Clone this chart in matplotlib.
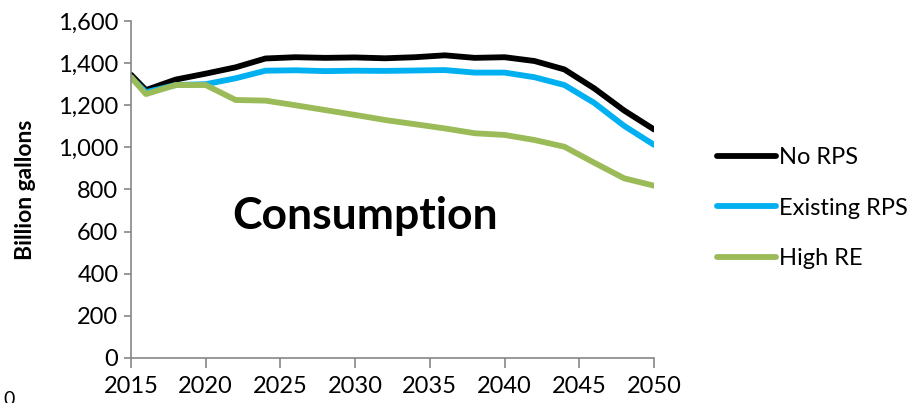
import matplotlib
matplotlib.use("Agg")
import matplotlib.pyplot as plt
from matplotlib.ticker import FuncFormatter

plt.rcParams['font.family'] = ['Lato', 'DejaVu Sans']

# Data (billion gallons)
years = [2015, 2016, 2018, 2020, 2022, 2024, 2026, 2028, 2030, 2032,
         2034, 2036, 2038, 2040, 2042, 2044, 2046, 2048, 2050]
no_rps = [1345, 1272, 1322, 1350, 1380, 1422, 1428, 1425, 1427, 1423,
          1428, 1437, 1425, 1428, 1410, 1370, 1280, 1175, 1085]
existing_rps = [1332, 1262, 1296, 1300, 1328, 1364, 1366, 1362, 1364, 1363,
                1365, 1367, 1355, 1355, 1333, 1296, 1211, 1102, 1012]
high_re = [1334, 1253, 1296, 1296, 1225, 1222, 1200, 1177, 1154, 1130,
           1110, 1090, 1067, 1059, 1035, 1003, 927, 853, 818]

series_names = ['No RPS', 'Existing RPS', 'High RE']
series_colors = ['#000000', '#00B0F0', '#9BBB59']

fig = plt.figure(figsize=(9.07, 4.03), dpi=100)
ax = fig.add_axes([0.1444, 0.1117, 0.5767, 0.8362])

for vals, name, col in zip([no_rps, existing_rps, high_re], series_names, series_colors):
    ax.plot(years, vals, color=col, lw=4.2, label=name, solid_capstyle='round')

ax.set_xlim(2015, 2050)
ax.set_ylim(0, 1600)
ax.set_xticks(range(2015, 2051, 5))
ax.set_yticks(range(0, 1601, 200))
ax.yaxis.set_major_formatter(FuncFormatter(lambda v, p: f"{int(v):,}"))

for s in ['top', 'right']:
    ax.spines[s].set_visible(False)
for s in ['left', 'bottom']:
    ax.spines[s].set_color('#868686')
    ax.spines[s].set_linewidth(1.2)
ax.tick_params(axis='both', colors='#868686', labelcolor='black', width=1.2)
ax.tick_params(axis='y', length=5, labelsize=17, pad=4)
ax.tick_params(axis='x', length=7, labelsize=17, pad=6)

ax.set_ylabel('Billion gallons', fontsize=16.5, fontweight='bold', labelpad=16)

ax.text(0.448, 0.42, 'Consumption', transform=ax.transAxes, ha='center', va='center',
        fontsize=32, fontweight='bold')

leg = ax.legend(loc='center left', bbox_to_anchor=(1.08, 0.445), frameon=False,
                fontsize=17, handlelength=2.5, handletextpad=0.12, labelspacing=1.25)

# stray clipped label in the bottom-left corner
fig.text(0.004, -0.012, '0', fontsize=14, ha='left', va='bottom')

fig.savefig('out.png', dpi=100)
